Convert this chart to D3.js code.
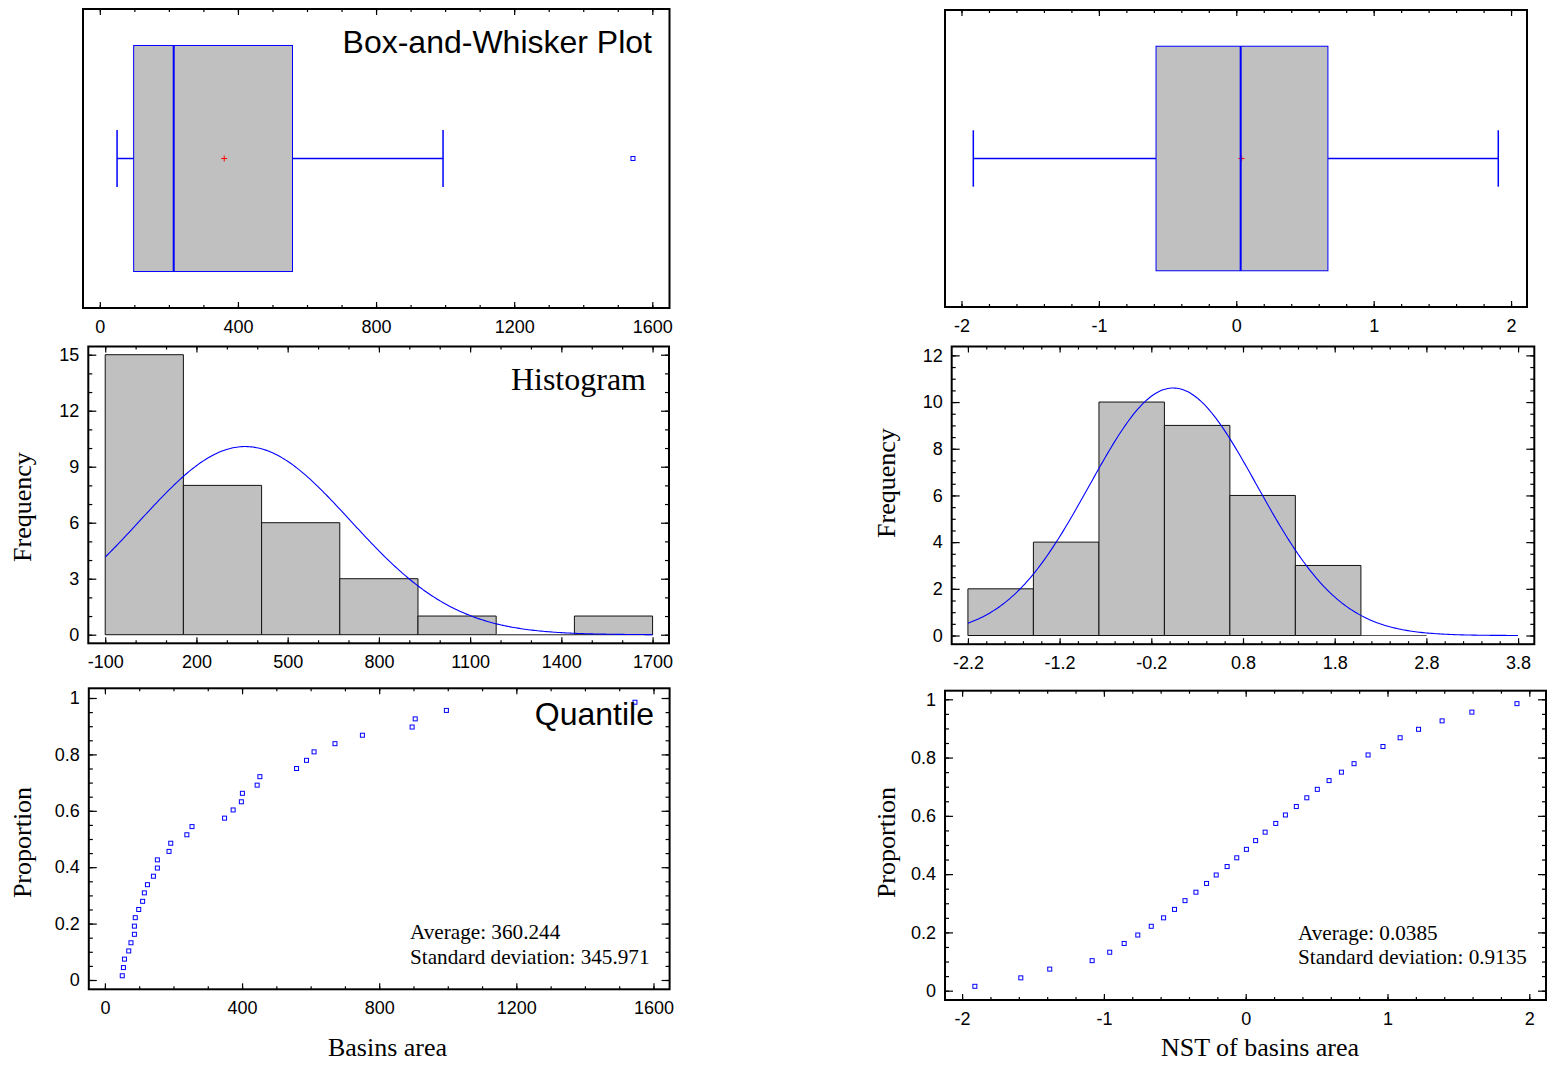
<!DOCTYPE html>
<html>
<head>
<meta charset="utf-8">
<script src="https://cdn.jsdelivr.net/npm/d3@7"></script>
<style>
  body { margin: 0; background: #fff; }
</style>
</head>
<body>
<script>
// ---- data ----
// basins area, sorted (34 basins)
const areaValues = [50.6, 54, 57, 69.5, 76, 86, 86, 88.5, 98.6, 110,
  115, 124, 141.5, 153, 153, 187, 192, 239, 254, 349,
  374, 398, 401, 444, 452, 559, 588, 610, 671, 751,
  896, 905, 996, 1546];
// normal score transform of basins area, sorted
const nstValues = [-1.910, -1.586, -1.382, -1.083, -0.959, -0.857, -0.761, -0.666, -0.579, -0.502,
  -0.428, -0.351, -0.276, -0.208, -0.131, -0.063, 0.005, 0.070, 0.137, 0.212,
  0.280, 0.357, 0.431, 0.505, 0.588, 0.675, 0.764, 0.863, 0.968, 1.089,
  1.219, 1.385, 1.595, 1.913];
const proportions = [0.015, 0.044, 0.074, 0.103, 0.132, 0.162, 0.191, 0.221, 0.250, 0.279,
  0.309, 0.338, 0.368, 0.397, 0.426, 0.456, 0.485, 0.515, 0.544, 0.574,
  0.603, 0.632, 0.662, 0.691, 0.721, 0.750, 0.779, 0.809, 0.838, 0.868,
  0.897, 0.926, 0.956, 0.985];

const areaBins = [-100, 157.1, 414.3, 671.4, 928.6, 1185.7, 1442.9, 1700];
const areaCounts = [15, 8, 6, 3, 1, 0, 1];
const nstBins = [-2.2, -1.486, -0.771, -0.057, 0.657, 1.371, 2.086, 2.8];
const nstCounts = [2, 4, 10, 9, 6, 3, 0];

// lower whisker, Q1, median, Q3, upper whisker
const areaBox = [50, 98, 214, 558, 994];
const areaOutliers = [1544];
const nstBox = [-1.914, -0.584, 0.032, 0.667, 1.907];
const nstOutliers = [];

// average, standard deviation
const areaStats = [360.244, 345.971];
const nstStats = [0.0385, 0.9135];

const areaBoxTicks = [0, 400, 800, 1200, 1600];
const areaHistTicks = [-100, 200, 500, 800, 1100, 1400, 1700];
const areaFreqTicks = [0, 3, 6, 9, 12, 15];
const nstBoxTicks = [-2, -1, 0, 1, 2];
const nstHistTicks = [-2.2, -1.2, -0.2, 0.8, 1.8, 2.8, 3.8];
const nstFreqTicks = [0, 2, 4, 6, 8, 10, 12];
const propTicks = [0, 0.2, 0.4, 0.6, 0.8, 1];

const SANS = "'Liberation Sans', Arial, sans-serif";
const SERIF = "'Liberation Serif', 'Times New Roman', serif";
const BLUE = "#0000ff";

const svg = d3.select("body").append("svg")
  .attr("width", 1547)
  .attr("height", 1065)
  .style("background", "#fff");

// tidy number labels with a plain hyphen
function num(d) { return String(+d.toFixed(2)); }

function tickAxis(g, axisFn, scale, values, size, tr, fmt, pad) {
  const a = axisFn(scale).tickValues(values).tickSize(-size)
    .tickPadding(pad || 0).tickFormat(fmt || (() => ""));
  const sel = g.append("g").attr("transform", tr).call(a);
  sel.select(".domain").remove();
  sel.attr("font-family", SANS).attr("font-size", 18);
  sel.selectAll("line").attr("stroke", "#000").attr("stroke-width", 1.2);
  sel.selectAll("text").attr("fill", "#000");
  return sel;
}

// f = [left, right, top, bottom]
function panel(f, xDom, yDom, o) {
  const g = svg.append("g");
  const x = d3.scaleLinear().domain(xDom).range([f[0], f[1]]);
  const y = d3.scaleLinear().domain(yDom).range([f[3], f[2]]);

  // x ticks, top and bottom
  tickAxis(g, d3.axisBottom, x, o.xMinor, 3, `translate(0,${f[3]})`);
  tickAxis(g, d3.axisBottom, x, o.xTicks, 6, `translate(0,${f[3]})`, num, 12);
  tickAxis(g, d3.axisTop, x, o.xMinor, 3, `translate(0,${f[2]})`);
  tickAxis(g, d3.axisTop, x, o.xTicks, 6, `translate(0,${f[2]})`);

  if (o.yTicks) {
    tickAxis(g, d3.axisLeft, y, o.yMinor, 4, `translate(${f[0]},0)`);
    tickAxis(g, d3.axisLeft, y, o.yTicks, 8, `translate(${f[0]},0)`, num, 9);
    tickAxis(g, d3.axisRight, y, o.yMinor, 4, `translate(${f[1]},0)`);
    tickAxis(g, d3.axisRight, y, o.yTicks, 8, `translate(${f[1]},0)`);
  }
  const content = g.append("g");
  g.append("rect")
    .attr("x", f[0]).attr("y", f[2])
    .attr("width", f[1] - f[0]).attr("height", f[3] - f[2])
    .attr("fill", "none").attr("stroke", "#000").attr("stroke-width", 2);
  return { g: content, x, y };
}

function minor(a, b, step) {
  return d3.range(Math.round(a / step), Math.round(b / step) + 1).map(k => +(k * step).toFixed(4));
}

function boxPlot(p, stats, outliers, mean) {
  const g = p.g, x = p.x, y = p.y;
  const yc = y(0.5), yT = y(0.878), yB = y(0.122), cT = y(0.595), cB = y(0.405);
  // whiskers
  g.append("line").attr("x1", x(stats[0])).attr("x2", x(stats[1]))
    .attr("y1", yc).attr("y2", yc).attr("stroke", BLUE).attr("stroke-width", 1.5);
  g.append("line").attr("x1", x(stats[3])).attr("x2", x(stats[4]))
    .attr("y1", yc).attr("y2", yc).attr("stroke", BLUE).attr("stroke-width", 1.5);
  g.selectAll(".cap").data([stats[0], stats[4]]).enter().append("line")
    .attr("x1", d => x(d)).attr("x2", d => x(d))
    .attr("y1", cT).attr("y2", cB).attr("stroke", BLUE).attr("stroke-width", 1.5);
  // box
  g.append("rect").attr("x", x(stats[1])).attr("y", yT)
    .attr("width", x(stats[3]) - x(stats[1])).attr("height", yB - yT)
    .attr("fill", "#c0c0c0").attr("stroke", BLUE).attr("stroke-width", 1);
  // mean marker
  const mx = x(mean);
  g.append("path").attr("d", `M${mx - 3},${yc}H${mx + 3}M${mx},${yc - 3}V${yc + 3}`)
    .attr("stroke", "#ff0000").attr("stroke-width", 1);
  // median
  g.append("line").attr("x1", x(stats[2])).attr("x2", x(stats[2]))
    .attr("y1", yT).attr("y2", yB).attr("stroke", BLUE).attr("stroke-width", 2);
  // outliers
  g.selectAll(".out").data(outliers).enter().append("rect")
    .attr("x", d => x(d) - 2).attr("y", yc - 2).attr("width", 4).attr("height", 4)
    .attr("fill", "#fff").attr("stroke", BLUE).attr("stroke-width", 1);
}

function histogram(p, bins, counts, stats, curveEnd) {
  const g = p.g, x = p.x, y = p.y;
  const n = d3.sum(counts), w = bins[1] - bins[0];
  g.selectAll(".bar").data(counts).enter().append("path")
    .attr("d", (c, i) => `M${x(bins[i])},${y(0)}V${y(c)}H${x(bins[i + 1])}V${y(0)}Z`)
    .attr("fill", "#c0c0c0").attr("stroke", (c) => c === 0 ? "#555" : "#111").attr("stroke-width", 1);
  const mu = stats[0], sd = stats[1];
  const dens = v => n * w / (sd * Math.sqrt(2 * Math.PI)) * Math.exp(-0.5 * ((v - mu) / sd) ** 2);
  const xs = d3.range(0, 301).map(k => bins[0] + (curveEnd - bins[0]) * k / 300);
  g.append("path")
    .attr("d", d3.line().x(v => x(v)).y(v => y(dens(v)))(xs))
    .attr("fill", "none").attr("stroke", BLUE).attr("stroke-width", 1.1);
}

function quantile(p, values) {
  p.g.selectAll(".pt").data(values).enter().append("rect")
    .attr("x", d => p.x(d) - 2).attr("y", (d, i) => p.y(proportions[i]) - 2)
    .attr("width", 4).attr("height", 4)
    .attr("fill", "#fff").attr("stroke", BLUE).attr("stroke-width", 1);
}

function label(txt, x, y, font, size, anchor, rot) {
  const t = svg.append("text").text(txt)
    .attr("font-family", font).attr("font-size", size)
    .attr("text-anchor", anchor || "start").attr("fill", "#000");
  if (rot) t.attr("transform", `translate(${x},${y}) rotate(-90)`);
  else t.attr("x", x).attr("y", y);
  return t;
}

// ---- left column: basins area ----
const pL1 = panel([83, 669.5, 9, 308], [-48.7, 1649.8], [0, 1],
  { xTicks: areaBoxTicks, xMinor: minor(0, 1600, 100) });
boxPlot(pL1, areaBox, areaOutliers, areaStats[0]);
label("Box-and-Whisker Plot", 652, 53, SANS, 32, "end");

const pL2 = panel([88.3, 669, 346.5, 643.3], [-155.6, 1754], [-0.46, 15.44],
  { xTicks: areaHistTicks, xMinor: minor(-100, 1700, 100), yTicks: areaFreqTicks, yMinor: minor(0, 15, 1) });
histogram(pL2, areaBins, areaCounts, areaStats, 1700);
label("Histogram", 646, 390, SERIF, 32, "end");
label("Frequency", 31, 507, SERIF, 26, "middle", true);

const pL3 = panel([88.8, 669.6, 688.3, 989.3], [-47, 1647], [-0.033, 1.0344],
  { xTicks: areaBoxTicks, xMinor: minor(0, 1600, 100), yTicks: propTicks, yMinor: minor(0, 1, 0.05) });
quantile(pL3, areaValues);
label("Quantile", 654, 725, SANS, 32, "end");
label("Proportion", 31, 842.5, SERIF, 26, "middle", true);
label("Average: " + areaStats[0], 410, 939, SERIF, 21.2);
label("Standard deviation: " + areaStats[1], 410, 963.5, SERIF, 21.2);
label("Basins area", 387.5, 1056, SERIF, 26, "middle");

// ---- right column: NST of basins area ----
const pR1 = panel([945, 1527, 10, 307], [-2.12, 2.116], [0, 1],
  { xTicks: nstBoxTicks, xMinor: minor(-2, 2, 0.2) });
boxPlot(pR1, nstBox, nstOutliers, nstStats[0]);

const pR2 = panel([951.7, 1534.3, 346.5, 644.2], [-2.377, 3.977], [-0.372, 12.38],
  { xTicks: nstHistTicks, xMinor: minor(-2.2, 3.8, 0.2), yTicks: nstFreqTicks, yMinor: minor(0, 12, 0.5) });
histogram(pR2, nstBins, nstCounts, nstStats, 3.8);
label("Frequency", 895, 483, SERIF, 26, "middle", true);

const pR3 = panel([945, 1546, 690.7, 1000], [-2.1206, 2.1178], [-0.032, 1.0295],
  { xTicks: nstBoxTicks, xMinor: minor(-2, 2, 0.2), yTicks: propTicks, yMinor: minor(0, 1, 0.05) });
quantile(pR3, nstValues);
label("Proportion", 895, 842.5, SERIF, 26, "middle", true);
label("Average: " + nstStats[0], 1298, 940, SERIF, 21.2);
label("Standard deviation: " + nstStats[1], 1298, 964, SERIF, 21.2);
label("NST of basins area", 1260, 1056, SERIF, 26, "middle");
</script>
</body>
</html>
